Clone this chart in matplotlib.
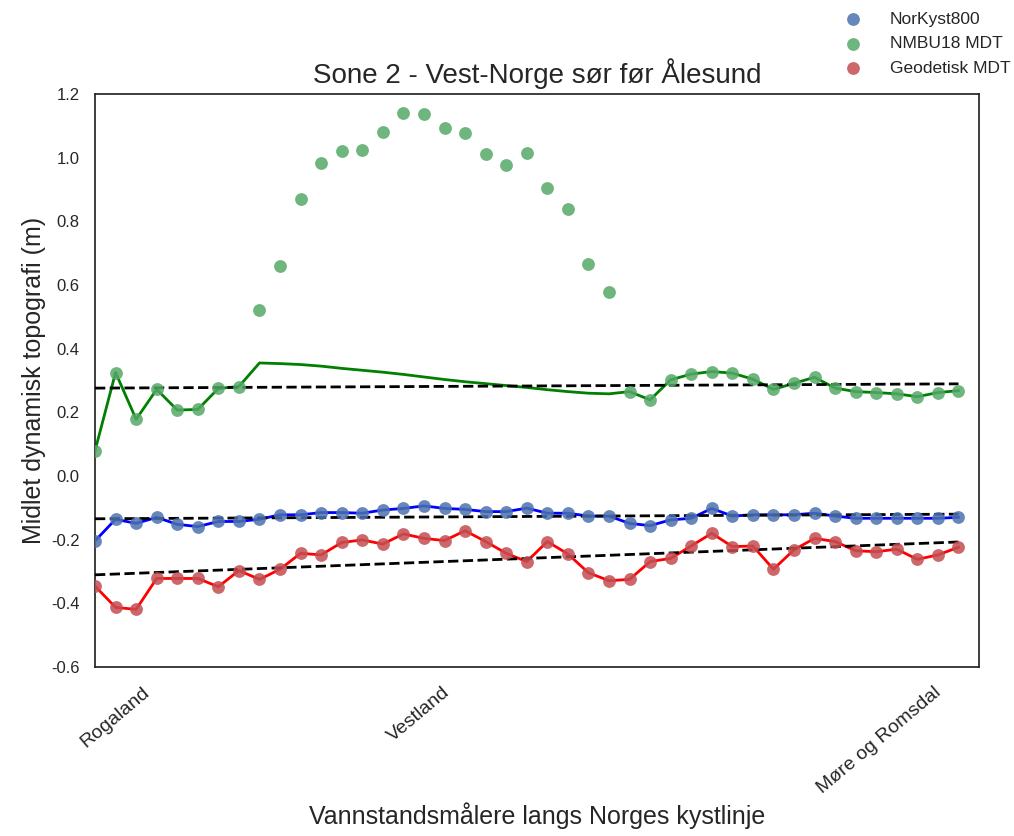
#!/usr/bin/env python3
"""Sone 2 - midlet dynamisk topografi langs kysten"""

import numpy as np
import matplotlib
matplotlib.use("Agg")
import matplotlib.pyplot as plt

# data lest av figuren (en verdi per vannstandsmåler)
norkyst = [-0.204, -0.136, -0.149, -0.130, -0.152, -0.159, -0.143, -0.143, -0.136, -0.122,
           -0.122, -0.115, -0.115, -0.117, -0.107, -0.102, -0.094, -0.102, -0.105, -0.112,
           -0.112, -0.101, -0.117, -0.117, -0.126, -0.126, -0.149, -0.156, -0.138, -0.133,
           -0.102, -0.126, -0.122, -0.122, -0.122, -0.117, -0.126, -0.133, -0.133, -0.133,
           -0.133, -0.133, -0.130]

nmbu_pts = [0.079, 0.325, 0.178, 0.272, 0.207, 0.209, 0.275, 0.281, 0.521, 0.661,
            0.870, 0.982, 1.020, 1.025, 1.081, 1.141, 1.137, 1.092, 1.077, 1.010,
            0.976, 1.015, 0.904, 0.838, 0.666, 0.578, 0.265, 0.239, 0.302, 0.320,
            0.328, 0.323, 0.304, 0.272, 0.291, 0.310, 0.276, 0.265, 0.262, 0.258,
            0.249, 0.262, 0.268]

# linja for NMBU18 følger punktene utenom i midtpartiet
nmbu_line = [0.079, 0.325, 0.178, 0.272, 0.207, 0.209, 0.275, 0.281, 0.355, 0.353,
             0.350, 0.345, 0.338, 0.332, 0.326, 0.319, 0.311, 0.303, 0.296, 0.290,
             0.284, 0.278, 0.271, 0.265, 0.260, 0.258, 0.265, 0.239, 0.302, 0.320,
             0.328, 0.323, 0.304, 0.272, 0.291, 0.310, 0.276, 0.265, 0.262, 0.258,
             0.249, 0.262, 0.268]

geodetisk = [-0.346, -0.413, -0.419, -0.322, -0.322, -0.322, -0.348, -0.297, -0.325, -0.293,
             -0.243, -0.248, -0.209, -0.201, -0.214, -0.182, -0.196, -0.203, -0.172, -0.206,
             -0.243, -0.269, -0.206, -0.245, -0.304, -0.329, -0.325, -0.269, -0.259, -0.220,
             -0.180, -0.222, -0.220, -0.293, -0.232, -0.196, -0.206, -0.235, -0.238, -0.230,
             -0.262, -0.248, -0.224]

tick_pos = [2.8, 17.4, 41.3]
tick_labels = ["Rogaland", "Vestland", "Møre og Romsdal"]


def main():
    plt.rcParams['font.family'] = ['Liberation Sans', 'DejaVu Sans']
    plt.rcParams['text.color'] = '.15'
    plt.rcParams['axes.labelcolor'] = '.15'
    plt.rcParams['xtick.color'] = '.15'
    plt.rcParams['ytick.color'] = '.15'

    x = np.arange(len(norkyst))

    fig = plt.figure(figsize=(10.14, 8.36), dpi=100)
    ax = fig.add_axes([0.0937, 0.2022, 0.8718, 0.6854])

    # linjer
    ax.plot(x, norkyst, color='blue', lw=2, zorder=2)
    ax.plot(x, nmbu_line, color='green', lw=2, zorder=2)
    ax.plot(x, geodetisk, color='red', lw=2, zorder=2)

    # lineære trender
    for serie in (norkyst, nmbu_line, geodetisk):
        k = np.polyfit(x, serie, 1)
        ax.plot(x, np.polyval(k, x), 'k--', lw=2, zorder=3)

    # punkter
    ax.scatter(x, norkyst, s=85, color='#4C72B0', alpha=0.85, lw=0, zorder=4, label='NorKyst800')
    ax.scatter(x, nmbu_pts, s=85, color='#55A868', alpha=0.85, lw=0, zorder=4, label='NMBU18 MDT')
    ax.scatter(x, geodetisk, s=85, color='#C44E52', alpha=0.85, lw=0, zorder=4, label='Geodetisk MDT')

    ax.set_xlim(0, 43)
    ax.set_ylim(-0.6, 1.2)
    ax.set_yticks(np.arange(-0.6, 1.21, 0.2))
    ax.set_yticklabels([f"{v:.1f}" for v in np.arange(-0.6, 1.21, 0.2)])
    ax.set_xticks(tick_pos)
    ax.set_xticklabels(tick_labels, rotation=40, ha='right', fontsize=14)
    ax.tick_params(axis='y', length=0, pad=11, labelsize=12)
    ax.tick_params(axis='x', length=0, pad=12)
    for sp in ax.spines.values():
        sp.set_color('.15')
        sp.set_linewidth(1.25)

    ax.set_title('Sone 2 - Vest-Norge sør før Ålesund', fontsize=20, pad=8)
    ax.set_xlabel('Vannstandsmålere langs Norges kystlinje', fontsize=18)
    ax.set_ylabel('Midlet dynamisk topografi (m)', fontsize=18)

    fig.legend(loc='upper right', bbox_to_anchor=(1.012, 1.005), frameon=False,
               fontsize=12.5, handletextpad=1.1, labelspacing=0.55, scatterpoints=1)

    plt.savefig('out.png', dpi=100)


if __name__ == "__main__":
    main()
